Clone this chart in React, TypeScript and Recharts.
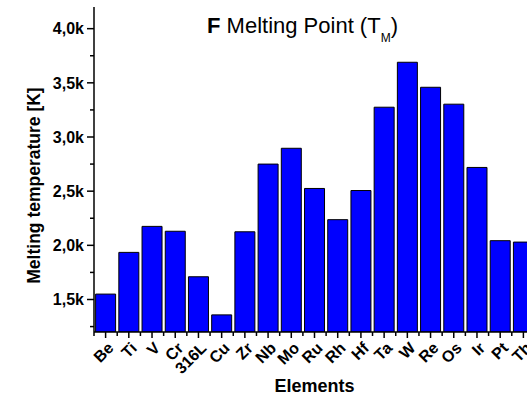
import React from 'react';
import { BarChart, Bar, XAxis, YAxis } from 'recharts';

const elements = ['Be', 'Ti', 'V', 'Cr', '316L', 'Cu', 'Zr', 'Nb', 'Mo', 'Ru', 'Rh', 'Hf', 'Ta', 'W', 'Re', 'Os', 'Ir', 'Pt', 'Th'];
const meltingPoints = [1550, 1935, 2175, 2130, 1710, 1358, 2125, 2750, 2896, 2525, 2237, 2506, 3275, 3690, 3459, 3303, 2719, 2043, 2030];
const yTicks = [1250, 1500, 1750, 2000, 2250, 2500, 2750, 3000, 3250, 3500, 3750, 4000];
const yMajor = [1500, 2000, 2500, 3000, 3500, 4000];

const data = elements.map((name, i) => ({ name, tm: meltingPoints[i] }));

const FONT = '"Liberation Sans", Arial, sans-serif';
const AXIS = { stroke: '#000', strokeWidth: 1.5 };

const fmtK = (v: number) => (v / 1000).toFixed(1).replace('.', ',') + 'k';

// left axis: long ticks with labels on majors, short ones in between
const YTick = (props: any) => {
  const { x, y, payload } = props;
  const major = yMajor.includes(payload.value);
  return (
    <g>
      <line x1={x} x2={x - (major ? 7 : 4)} y1={y} y2={y} stroke="#000" strokeWidth={1.5} />
      {major && (
        <text x={x - 10} y={y} dy="0.36em" textAnchor="end" fontFamily={FONT} fontWeight="bold" fontSize={16} fill="#000">
          {fmtK(payload.value)}
        </text>
      )}
    </g>
  );
};

// bottom axis: major tick at each category, minor tick at the band edge, rotated label
const XTick = (props: any) => {
  const { x, y, payload } = props;
  const half = payload.offset ?? 11.6;
  return (
    <g>
      <line x1={x} x2={x} y1={y} y2={y + 6} stroke="#000" strokeWidth={1.5} />
      <line x1={x - half} x2={x - half} y1={y} y2={y + 4} stroke="#000" strokeWidth={1.5} />
      <text
        x={x + 5}
        y={y + 13}
        dy="0.36em"
        textAnchor="end"
        transform={`rotate(-45 ${x + 5} ${y + 13})`}
        fontFamily={FONT}
        fontWeight="bold"
        fontSize={16}
        fill="#000"
      >
        {payload.value}
      </text>
    </g>
  );
};

const YLabel = (props: any) => {
  const { viewBox } = props;
  const cx = viewBox.x + 40;
  const cy = viewBox.y + viewBox.height / 2 + 16;
  return (
    <text x={cx} y={cy} textAnchor="middle" transform={`rotate(-90 ${cx} ${cy})`} fontFamily={FONT} fontWeight="bold" fontSize={17.5} fill="#000">
      Melting temperature [K]
    </text>
  );
};

const XLabel = (props: any) => {
  const { viewBox } = props;
  const cx = viewBox.x + viewBox.width / 2;
  const cy = viewBox.y + viewBox.height - 5;
  return (
    <text x={cx} y={cy} textAnchor="middle" fontFamily={FONT} fontWeight="bold" fontSize={18} fill="#000">
      Elements
    </text>
  );
};

export default function App() {
  return (
    <div style={{ position: 'absolute', left: 0, top: 0, width: 527, height: 397, overflow: 'hidden', background: '#fff', fontFamily: FONT }}>
      <BarChart width={545} height={397} data={data} margin={{ top: 7, right: 10, left: 0, bottom: 0 }} barCategoryGap="7%">
        <XAxis
          dataKey="name"
          height={65}
          interval={0}
          tickSize={0}
          tickMargin={0}
          tickLine={false}
          axisLine={AXIS}
          tick={<XTick />}
          label={<XLabel />}
        />
        <XAxis xAxisId="top" orientation="top" height={0} tick={false} tickLine={false} axisLine={AXIS} />
        <YAxis
          width={94}
          domain={[1200, 4200]}
          ticks={yTicks}
          allowDataOverflow
          interval={0}
          tickSize={0}
          tickMargin={0}
          tickLine={false}
          axisLine={AXIS}
          tick={<YTick />}
          label={<YLabel />}
        />
        <YAxis yAxisId="right" orientation="right" width={0} tick={false} tickLine={false} axisLine={AXIS} />
        <Bar dataKey="tm" fill="#0000FF" stroke="#000" strokeWidth={1} isAnimationActive={false} />
      </BarChart>
      <svg width={527} height={60} style={{ position: 'absolute', left: 0, top: 0, pointerEvents: 'none' }}>
        <text x={207} y={33} fontFamily={FONT} fontSize={22} fill="#000">
          <tspan fontWeight="bold">F</tspan>
          <tspan> Melting Point (T</tspan>
          <tspan fontSize={12} dy={9}>M</tspan>
          <tspan dy={-9}>)</tspan>
        </text>
      </svg>
    </div>
  );
}
